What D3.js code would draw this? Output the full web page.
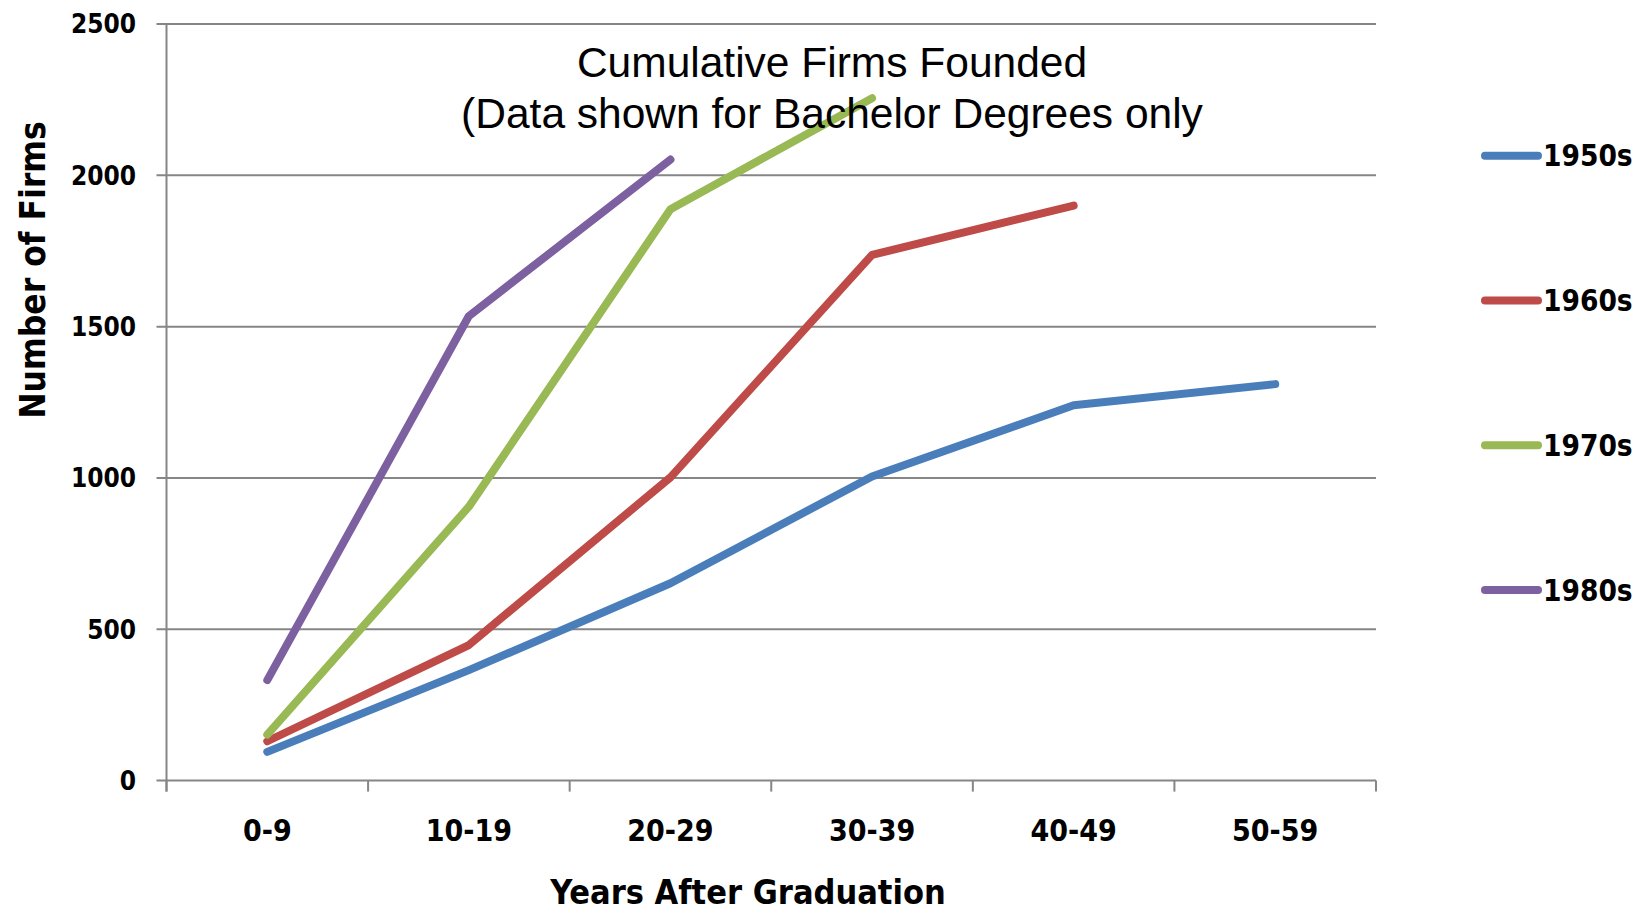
<!DOCTYPE html>
<html><head><meta charset="utf-8">
<script src="https://cdn.jsdelivr.net/npm/d3@7"></script>
<style>
html,body{margin:0;padding:0;background:#fff;}
.b{font-family:"DejaVu Sans Condensed","DejaVu Sans",sans-serif;font-stretch:condensed;font-weight:bold;fill:#000;}
</style></head>
<body><svg id="c" width="1644" height="914"></svg>
<script>
const categories = ["0-9","10-19","20-29","30-39","40-49","50-59"];
const seriesNames = ["1950s","1960s","1970s","1980s"];
const s1950 = [95, 365, 652, 1005, 1240, 1310];
const s1960 = [130, 448, 1002, 1737, 1900];
const s1970 = [152, 905, 1888, 2255];
const s1980 = [332, 1535, 2052];
const yTicks = [0, 500, 1000, 1500, 2000, 2500];
const colors = ["#4A7EBB", "#BE4B48", "#98B954", "#7D60A0"];
const titleLines = ["Cumulative Firms Founded", "(Data shown for Bachelor Degrees only"];

const svg = d3.select("#c");
const L = 166.5, R = 1376, T = 24, B = 780.6;
const x = d3.scaleBand().domain(categories).range([L, R]);
const y = d3.scaleLinear().domain([0, 2500]).range([B, T]);

// gridlines
svg.append("g").selectAll("line").data(yTicks).join("line")
  .attr("x1", L - 10).attr("x2", R).attr("y1", d => y(d)).attr("y2", d => y(d))
  .attr("stroke", "#868686").attr("stroke-width", 2);

// y axis line
svg.append("line").attr("x1", L).attr("x2", L).attr("y1", T).attr("y2", B + 11)
  .attr("stroke", "#868686").attr("stroke-width", 2);

// x ticks at band boundaries
const bounds = categories.map(c => x(c)).concat([R]);
svg.append("g").selectAll("line").data(bounds).join("line")
  .attr("x1", d => d).attr("x2", d => d).attr("y1", B).attr("y2", B + 11)
  .attr("stroke", "#868686").attr("stroke-width", 2);

// y tick labels
svg.append("g").selectAll("text").data(yTicks).join("text")
  .attr("class", "b").attr("x", 136).attr("y", d => y(d)).attr("dy", "0.36em")
  .attr("text-anchor", "end").attr("font-size", 26).text(d => d);

// x tick labels
svg.append("g").selectAll("text").data(categories).join("text")
  .attr("class", "b").attr("x", d => x(d) + x.bandwidth() / 2).attr("y", 841)
  .attr("text-anchor", "middle").attr("font-size", 30).text(d => d);

// axis titles
svg.append("text").attr("class", "b").attr("font-size", 35)
  .attr("transform", "translate(45,270) rotate(-90)").attr("text-anchor", "middle")
  .text("Number of Firms");
svg.append("text").attr("class", "b").attr("font-size", 34)
  .attr("x", 748).attr("y", 904).attr("text-anchor", "middle")
  .text("Years After Graduation");

// lines
const allSeries = [s1950, s1960, s1970, s1980];
const line = d3.line().x((d, i) => x(categories[i]) + x.bandwidth() / 2).y(d => y(d));
svg.append("g").selectAll("path").data(allSeries).join("path")
  .attr("d", d => line(d)).attr("fill", "none")
  .attr("stroke", (d, i) => colors[i]).attr("stroke-width", 8)
  .attr("stroke-linecap", "round").attr("stroke-linejoin", "round");

// title
svg.append("g").selectAll("text").data(titleLines).join("text")
  .attr("x", 832).attr("y", (d, i) => 77 + i * 51).attr("text-anchor", "middle")
  .attr("font-family", "'Liberation Sans', Arial, sans-serif").attr("font-size", 42.5)
  .attr("fill", "#000").text(d => d);

// legend
const lg = svg.append("g").selectAll("g").data(seriesNames).join("g")
  .attr("transform", (d, i) => `translate(0,${155.7 + i * 144.8})`);
lg.append("line").attr("x1", 1485).attr("x2", 1538).attr("y1", 0).attr("y2", 0)
  .attr("stroke", (d, i) => colors[i]).attr("stroke-width", 8).attr("stroke-linecap", "round");
lg.append("text").attr("class", "b").attr("x", 1543).attr("y", 0).attr("dy", "0.36em")
  .attr("font-size", 29.5).text(d => d);
</script></body></html>
